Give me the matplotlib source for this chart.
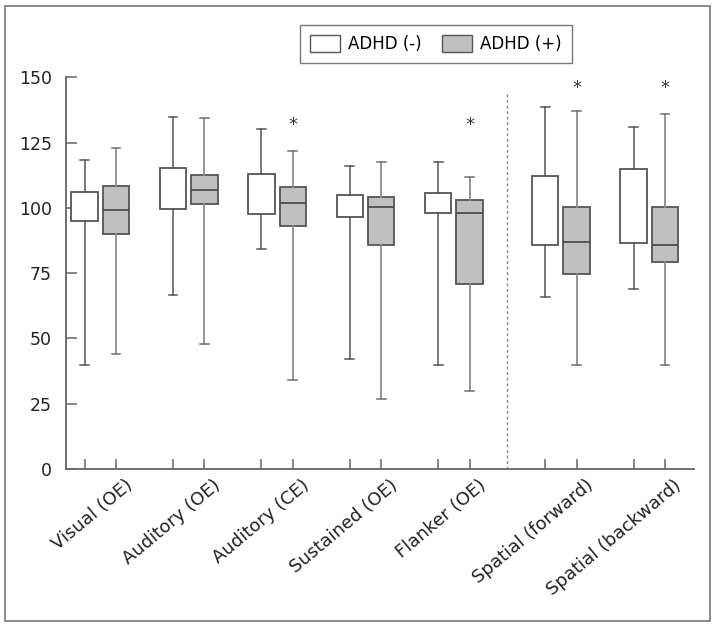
import numpy as np
import matplotlib
matplotlib.use("Agg")
import matplotlib.pyplot as plt
from matplotlib.patches import Patch, Rectangle
from matplotlib.transforms import blended_transform_factory, ScaledTranslation

plt.rcParams['font.family'] = ['DejaVu Sans']

categories = ['Visual (OE)', 'Auditory (OE)', 'Auditory (CE)', 'Sustained (OE)',
              'Flanker (OE)', 'Spatial (forward)', 'Spatial (backward)']
series_names = ['ADHD (-)', 'ADHD (+)']

neg_whislo = [39.7, 66.5, 84.3, 42.0, 39.7, 65.8, 68.9]
neg_q1 = [94.9, 99.6, 97.8, 96.6, 98.2, 85.7, 86.6]
neg_q3 = [106.2, 115.4, 112.9, 105.1, 105.6, 112.1, 114.9]
neg_whishi = [118.2, 134.9, 130.1, 116.2, 117.5, 138.8, 130.9]

pos_whislo = [44.2, 47.8, 34.1, 26.9, 29.8, 39.8, 39.8]
pos_q1 = [90.0, 101.5, 93.1, 85.8, 70.8, 74.5, 79.2]
pos_med = [99.0, 106.8, 102.0, 100.3, 98.0, 86.9, 85.9]
pos_q3 = [108.2, 112.4, 108.0, 104.1, 102.9, 100.3, 100.3]
pos_whishi = [123.1, 134.6, 121.7, 117.7, 111.8, 137.0, 136.0]

significant = [False, False, True, False, True, True, True]
star_values = [None, None, 131.7, None, 131.7, 146.0, 146.0]

yticks = [0, 25, 50, 75, 100, 125, 150]

W, H = 717, 627
fig = plt.figure(figsize=(W / 100, H / 100), dpi=100)
ax = fig.add_axes([66 / W, 1 - 469 / H, (694 - 66) / W, (469 - 77.3) / H])

idx = np.arange(len(categories))
groups = idx + np.where(idx >= 5, 0.21, 0.0)
off = 0.178
bw = 0.30
edge = '#555555'

neg_stats = [dict(whislo=a, q1=b, med=b, q3=c, whishi=d, fliers=[])
             for a, b, c, d in zip(neg_whislo, neg_q1, neg_q3, neg_whishi)]
pos_stats = [dict(whislo=a, q1=b, med=m, q3=c, whishi=d, fliers=[])
             for a, b, m, c, d in zip(pos_whislo, pos_q1, pos_med, pos_q3, pos_whishi)]

ax.bxp(neg_stats, positions=groups - off, widths=bw, patch_artist=True,
       showfliers=False, manage_ticks=False, capwidths=0.1,
       boxprops=dict(facecolor='white', edgecolor=edge, linewidth=1.3),
       whiskerprops=dict(color=edge, linewidth=1.1),
       capprops=dict(color=edge, linewidth=1.1),
       medianprops=dict(linewidth=0))
ax.bxp(pos_stats, positions=groups + off, widths=bw, patch_artist=True,
       showfliers=False, manage_ticks=False, capwidths=0.1,
       boxprops=dict(facecolor='#c0c0c0', edgecolor=edge, linewidth=1.3),
       whiskerprops=dict(color='#8c8c8c', linewidth=1.3),
       capprops=dict(color='#707070', linewidth=1.1),
       medianprops=dict(color='#444444', linewidth=1.2))

for g, s, v in zip(groups, significant, star_values):
    if s:
        ax.text(g + off, v, '*', ha='center', va='center', fontsize=13,
                color='#333333', clip_on=False)

xdash = (groups[4] + groups[5]) / 2
ax.plot([xdash, xdash], [0, 144.6], linestyle=(0, (2, 2)), color='#888888',
        linewidth=1.0, clip_on=False)

ax.set_xlim(-0.388, 6.716)
ax.set_ylim(0, 150)
ax.set_yticks(yticks)
ax.set_yticklabels([str(t) for t in yticks])
ax.set_xticks(np.sort(np.concatenate([groups - off, groups + off])))
ax.set_xticklabels([])
for s in ['top', 'right']:
    ax.spines[s].set_visible(False)
for s in ['left', 'bottom']:
    ax.spines[s].set_color('#666666')
    ax.spines[s].set_linewidth(1.3)
ax.tick_params(axis='y', direction='in', length=8, width=1.1, color='#666666',
               pad=10, labelsize=12.5, labelcolor='#222222')
ax.tick_params(axis='x', direction='in', length=7, width=1.1, color='#666666')

trans = blended_transform_factory(ax.transData, ax.transAxes) + \
    ScaledTranslation(24 / 100, -7 / 100, fig.dpi_scale_trans)
for g, lab in zip(groups, categories):
    ax.text(g, 0, lab, transform=trans, rotation=40, ha='right', va='top',
            rotation_mode='anchor', fontsize=13, color='#222222')

handles = [Patch(facecolor='white', edgecolor=edge, linewidth=1.0),
           Patch(facecolor='#c0c0c0', edgecolor=edge, linewidth=1.0)]
leg = fig.legend(handles, series_names, loc='center', ncol=2,
                 bbox_to_anchor=(436 / W, 1 - 44 / H), fontsize=12,
                 frameon=True, fancybox=False, handlelength=1.8, handleheight=1.2,
                 columnspacing=1.2, handletextpad=0.5, borderpad=0.6)
leg.get_frame().set_edgecolor('#555555')
leg.get_frame().set_linewidth(1.0)

fig.patches.append(Rectangle((5 / W, 6 / H), 705 / W, 615 / H, transform=fig.transFigure,
                             fill=False, edgecolor='#777777', linewidth=1.2))

fig.savefig('out.png', dpi=100)
